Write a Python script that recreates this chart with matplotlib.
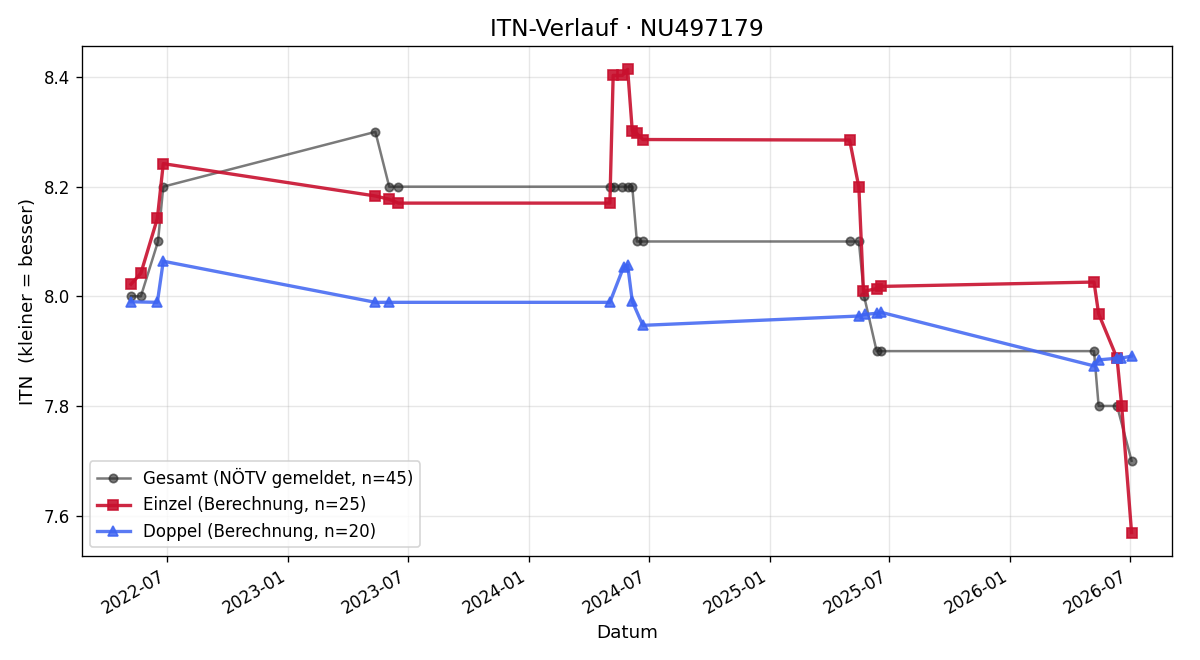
import pandas as pd
import matplotlib
matplotlib.use("Agg")
import matplotlib.pyplot as plt
import matplotlib.dates as mdates

# Gesamt ITN (as reported by NÖTV)
gesamt_dates = ["2022-05-07", "2022-05-22", "2022-06-17", "2022-06-25",
                "2023-05-13", "2023-06-03", "2023-06-17",
                "2024-05-03", "2024-05-10", "2024-05-22", "2024-05-30", "2024-06-06",
                "2024-06-13", "2024-06-22",
                "2025-05-02", "2025-05-16", "2025-05-24", "2025-06-12", "2025-06-18",
                "2026-05-08", "2026-05-15", "2026-06-12", "2026-07-04"]
gesamt_itn = [8.0, 8.0, 8.1, 8.2,
              8.3, 8.2, 8.2,
              8.2, 8.2, 8.2, 8.2, 8.2,
              8.1, 8.1,
              8.1, 8.1, 8.0, 7.9, 7.9,
              7.9, 7.8, 7.8, 7.7]

# Einzel (calculated)
einzel_dates = ["2022-05-07", "2022-05-22", "2022-06-16", "2022-06-25",
                "2023-05-13", "2023-06-03", "2023-06-17",
                "2024-05-03", "2024-05-08", "2024-05-22", "2024-05-30", "2024-06-06",
                "2024-06-13", "2024-06-22",
                "2025-05-02", "2025-05-16", "2025-05-23", "2025-06-12", "2025-06-18",
                "2026-05-08", "2026-05-15", "2026-06-12", "2026-06-19", "2026-07-04"]
einzel_itn = [8.022, 8.042, 8.142, 8.242,
              8.183, 8.177, 8.170,
              8.170, 8.403, 8.403, 8.414, 8.302,
              8.297, 8.286,
              8.285, 8.199, 8.009, 8.014, 8.018,
              8.026, 7.968, 7.887, 7.800, 7.569]

# Doppel (calculated)
doppel_dates = ["2022-05-07", "2022-06-16", "2022-06-25",
                "2023-05-13", "2023-06-03",
                "2024-05-03", "2024-05-24", "2024-05-30", "2024-06-06", "2024-06-22",
                "2025-05-16", "2025-05-25", "2025-06-12", "2025-06-18",
                "2026-05-08", "2026-05-15", "2026-06-12", "2026-06-18", "2026-07-04"]
doppel_itn = [7.990, 7.989, 8.064,
              7.989, 7.989,
              7.989, 8.054, 8.057, 7.991, 7.947,
              7.964, 7.967, 7.969, 7.971,
              7.873, 7.884, 7.887, 7.887, 7.891]

fig, ax = plt.subplots(figsize=(10, 5.5), dpi=120)

ax.plot(pd.to_datetime(gesamt_dates), gesamt_itn, marker="o", color="#222222",
        alpha=0.6, linewidth=1.5, markersize=5, label="Gesamt (NÖTV gemeldet, n=45)")
ax.plot(pd.to_datetime(einzel_dates), einzel_itn, marker="s", color="#c8102e",
        alpha=0.9, linewidth=2, markersize=6, label="Einzel (Berechnung, n=25)")
ax.plot(pd.to_datetime(doppel_dates), doppel_itn, marker="^", color="#3d63f2",
        alpha=0.85, linewidth=2, markersize=6, label="Doppel (Berechnung, n=20)")

ax.set_xlim(pd.Timestamp("2022-02-21"), pd.Timestamp("2026-09-04"))
ax.xaxis.set_major_locator(mdates.MonthLocator(bymonth=[1, 7]))
ax.xaxis.set_major_formatter(mdates.DateFormatter("%Y-%m"))
ax.set_title("ITN-Verlauf · NU497179", fontsize=14)
ax.set_xlabel("Datum", fontsize=11)
ax.set_ylabel("ITN  (kleiner = besser)", fontsize=11)
ax.grid(True, alpha=0.3)
ax.legend(loc="lower left", fontsize=10)
fig.autofmt_xdate()

fig.subplots_adjust(left=0.068, right=0.977, top=0.93, bottom=0.158)
fig.savefig("out.png")
